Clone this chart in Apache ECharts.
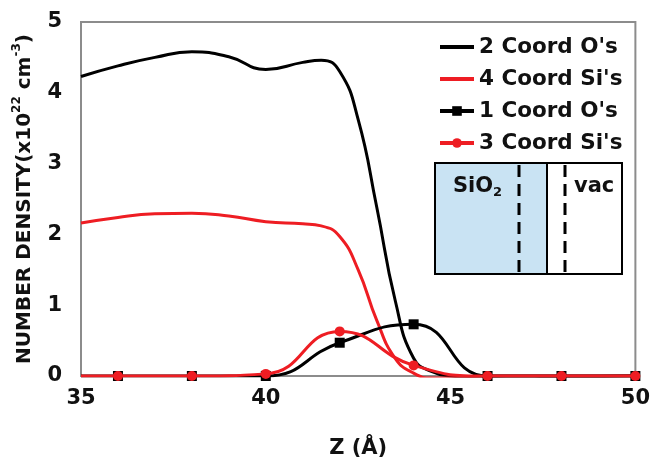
<!DOCTYPE html>
<html><head><meta charset="utf-8">
<script src="https://cdn.jsdelivr.net/npm/echarts@6/dist/echarts.min.js"></script>
<style>html,body{margin:0;padding:0;background:#fff}#c{width:653px;height:464px}</style>
</head><body><div id="c"></div>
<script>
const seriesNames = ["2 Coord O's", "4 Coord Si's", "1 Coord O's", "3 Coord Si's"];
const z2O  = [35, 36, 37, 38, 39, 40, 41, 41.5, 42, 42.5, 43, 43.5, 44, 44.5, 45, 46, 47, 48, 50];
const v2O  = [4.23, 4.38, 4.50, 4.58, 4.51, 4.33, 4.43, 4.46, 4.30, 3.62, 2.39, 1.07, 0.25, 0.06, 0.0, -0.03, -0.04, -0.02, 0];
const z4Si = [35, 36, 37, 38, 39, 40, 41, 41.5, 42, 42.5, 43, 43.5, 44, 44.5, 45, 46, 48, 50];
const v4Si = [2.16, 2.24, 2.29, 2.30, 2.26, 2.18, 2.15, 2.12, 1.97, 1.50, 0.79, 0.25, 0.04, -0.03, -0.03, 0, 0, 0];
const zMarked = [35, 36, 38, 40, 42, 44, 46, 48, 50];
const v1O  = [0, 0, 0, 0, 0.47, 0.73, 0, 0, 0];
const v3Si = [0, 0, 0, 0.03, 0.63, 0.15, 0, 0, 0];
const xTicks = [35, 40, 45, 50];
const yTicks = [0, 1, 2, 3, 4, 5];

const BLACK = '#000000', RED = '#ee1d23';
const FONT = '"DejaVu Sans", sans-serif';

function pairs(zs, vs) { return zs.map((z, i) => [z, vs[i]]); }
function markedPairs(zs, vs) {
  return zs.map((z, i) => i === 0 ? { value: [z, vs[i]], symbol: 'none' } : [z, vs[i]]);
}
const noSym = { color: 'rgba(0,0,0,0)', borderWidth: 0 };

const chart = echarts.init(document.getElementById('c'));
chart.setOption({
  animation: false,
  backgroundColor: '#ffffff',
  grid: { left: 81, right: 16, top: 22, bottom: 88, show: true, borderColor: '#8c8c8c', borderWidth: 2, backgroundColor: '#ffffff' },
  xAxis: {
    type: 'value', min: xTicks[0], max: xTicks[xTicks.length - 1], interval: xTicks[1] - xTicks[0],
    axisLine: { show: false }, axisTick: { show: false }, splitLine: { show: false },
    axisLabel: { fontFamily: FONT, fontWeight: 'bold', fontSize: 21, color: '#111', margin: 12 },
    name: 'Z (Å)', nameLocation: 'middle', nameGap: 62,
    nameTextStyle: { fontFamily: FONT, fontWeight: 'bold', fontSize: 21, color: '#111' }
  },
  yAxis: {
    type: 'value', min: yTicks[0], max: yTicks[yTicks.length - 1], interval: yTicks[1] - yTicks[0],
    axisLine: { show: false }, axisTick: { show: false }, splitLine: { show: false },
    axisLabel: { fontFamily: FONT, fontWeight: 'bold', fontSize: 21, color: '#111', margin: 19 },
    name: '{t|NUMBER DENSITY(x10}{s|22}{t| cm}{s|-3}{t|)}', nameLocation: 'middle', nameRotate: 90, nameGap: 46,
    nameTextStyle: {
      rich: {
        t: { fontFamily: FONT, fontWeight: 'bold', fontSize: 20, color: '#111', lineHeight: 24, verticalAlign: 'bottom' },
        s: { fontFamily: FONT, fontWeight: 'bold', fontSize: 12, color: '#111', lineHeight: 12, verticalAlign: 'top' }
      }
    }
  },
  legend: {
    orient: 'vertical', left: 433, top: 31, itemWidth: 34, itemHeight: 12, itemGap: 10,
    textStyle: { fontFamily: FONT, fontWeight: 'bold', fontSize: 21.5, color: '#111', lineHeight: 22 },
    data: [
      { name: seriesNames[0], itemStyle: noSym, lineStyle: { width: 4 } },
      { name: seriesNames[1], itemStyle: noSym, lineStyle: { width: 4 } },
      { name: seriesNames[2], lineStyle: { width: 4 } },
      { name: seriesNames[3], lineStyle: { width: 4 } }
    ]
  },
  series: [
    { name: seriesNames[0], type: 'line', data: pairs(z2O, v2O), smooth: 0.5, symbol: 'none',
      lineStyle: { color: BLACK, width: 3 }, itemStyle: { color: BLACK }, z: 2 },
    { name: seriesNames[1], type: 'line', data: pairs(z4Si, v4Si), smooth: 0.5, symbol: 'none',
      lineStyle: { color: RED, width: 3 }, itemStyle: { color: RED }, z: 3 },
    { name: seriesNames[2], type: 'line', data: markedPairs(zMarked, v1O), smooth: 0.5, symbol: 'rect', symbolSize: 10,
      lineStyle: { color: BLACK, width: 3 }, itemStyle: { color: BLACK }, z: 4 },
    { name: seriesNames[3], type: 'line', data: markedPairs(zMarked, v3Si), smooth: 0.5, symbol: 'circle', symbolSize: 10,
      lineStyle: { color: RED, width: 3 }, itemStyle: { color: RED }, z: 5 }
  ],
  graphic: [
    { type: 'rect', shape: { x: 435, y: 163, width: 187, height: 111 }, style: { fill: '#ffffff', stroke: null }, z: 10 },
    { type: 'rect', shape: { x: 435, y: 163, width: 112, height: 111 }, style: { fill: '#c9e3f3' }, z: 11 },
    { type: 'line', shape: { x1: 547, y1: 163, x2: 547, y2: 274 }, style: { stroke: '#000', lineWidth: 2 }, z: 12 },
    { type: 'line', shape: { x1: 519, y1: 165, x2: 519, y2: 273 }, style: { stroke: '#000', lineWidth: 3, lineDash: [12, 7] }, z: 12 },
    { type: 'line', shape: { x1: 565, y1: 165, x2: 565, y2: 273 }, style: { stroke: '#000', lineWidth: 3, lineDash: [12, 7] }, z: 12 },
    { type: 'rect', shape: { x: 435, y: 163, width: 187, height: 111 }, style: { fill: null, stroke: '#000', lineWidth: 2 }, z: 13 },
    { type: 'text', x: 453, y: 176, z: 13, style: { text: 'SiO', fontFamily: FONT, fontWeight: 'bold', fontSize: 21, fill: '#111' } },
    { type: 'text', x: 493, y: 186, z: 13, style: { text: '2', fontFamily: FONT, fontWeight: 'bold', fontSize: 13, fill: '#111' } },
    { type: 'text', x: 574, y: 176, z: 13, style: { text: 'vac', fontFamily: FONT, fontWeight: 'bold', fontSize: 21, fill: '#111' } }
  ]
});
</script></body></html>
